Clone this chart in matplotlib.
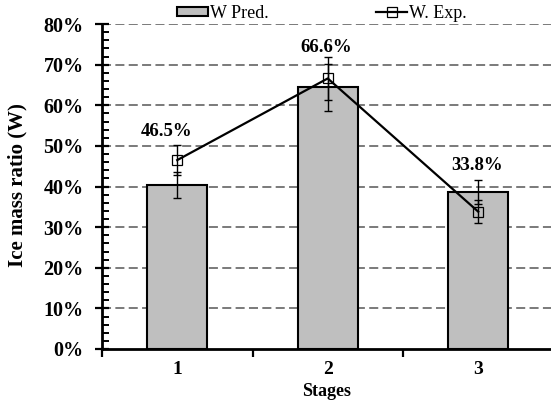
import matplotlib
matplotlib.use("Agg")
import matplotlib.pyplot as plt
from matplotlib.ticker import FixedLocator, FuncFormatter
import numpy as np

stages = ["1", "2", "3"]
pred_values = [40.4, 64.4, 38.6]
pred_errors = [3.2, 5.8, 2.95]
exp_values = [46.5, 66.6, 33.8]
exp_errors = [3.6, 5.2, 2.8]
exp_labels = ["46.5%", "66.6%", "33.8%"]
y_ticks = [0, 10, 20, 30, 40, 50, 60, 70, 80]

plt.rcParams['font.family'] = ['Liberation Serif', 'DejaVu Serif']

fig = plt.figure(figsize=(5.51, 4.01), dpi=100)
W, H = 551, 401
left_px, right_px = 102, 553.5
bottom_px, top_px = 349, 24
ax = fig.add_axes([left_px / W, (H - bottom_px) / H,
                   (right_px - left_px) / W, (bottom_px - top_px) / H])

x = np.arange(1, len(stages) + 1)

# gridlines
for yv in y_ticks[1:]:
    ax.axhline(yv, color='#6f6f6f', lw=1.3, ls=(0, (5, 2.4)), zorder=0)

bars = ax.bar(x, pred_values, width=0.4, color='#bfbfbf', edgecolor='black',
              linewidth=1.5, zorder=2, label='W Pred.')
ax.errorbar(x, pred_values, yerr=pred_errors, fmt='none', ecolor='black',
            elinewidth=1.0, capsize=2.8, capthick=1.0, zorder=3)

line, = ax.plot(x, exp_values, color='black', lw=1.6, marker='s', ms=6.5,
                mfc='none', mec='black', mew=0.9, zorder=4, label='W. Exp.')
ax.errorbar(x, exp_values, yerr=exp_errors, fmt='none', ecolor='black',
            elinewidth=1.0, capsize=2.8, capthick=1.0, zorder=4)

label_dx = [-0.07, -0.01, -0.01]
label_dy = [7.0, 7.6, 11.3]
for xi, v, lab, dx, dy in zip(x, exp_values, exp_labels, label_dx, label_dy):
    ax.text(xi + dx, v + dy, lab, ha='center', va='center',
            fontsize=13.5, fontweight='bold')

ax.set_xlim(0.5, 3.5)
ax.set_ylim(0, 80)
ax.yaxis.set_major_locator(FixedLocator(y_ticks))
ax.yaxis.set_minor_locator(FixedLocator(np.arange(0, 80.1, 2)))
ax.yaxis.set_major_formatter(FuncFormatter(lambda v, p: f"{int(round(v))}%"))
ax.set_xticks(x)
ax.set_xticklabels(stages)
ax.xaxis.set_minor_locator(FixedLocator([0.5, 1.5, 2.5, 3.5]))

ax.tick_params(axis='y', which='major', direction='inout', length=10.5,
               width=1.6, labelsize=14.5, pad=8)
ax.tick_params(axis='y', which='minor', direction='in', length=5, width=1.4)
ax.tick_params(axis='x', which='major', direction='in', length=3,
               width=1.6, labelsize=14, pad=9)
ax.tick_params(axis='x', which='minor', direction='out', length=6, width=1.6)
for lab in ax.get_xticklabels() + ax.get_yticklabels():
    lab.set_fontweight('bold')

for s in ['top', 'right']:
    ax.spines[s].set_visible(False)
for s in ['left', 'bottom']:
    ax.spines[s].set_linewidth(2)
    ax.spines[s].set_zorder(5)

fig.text(327 / W, 1 - 391 / H, 'Stages', ha='center', va='center',
         fontsize=13, fontweight='bold')
fig.text(17 / W, 1 - 185 / H, 'Ice mass ratio (W)', ha='center',
         va='center', rotation=90, fontsize=15, fontweight='bold')

leg = fig.legend(handles=[bars, line], labels=['W Pred.', 'W. Exp.'],
                 loc='center left', bbox_to_anchor=(177 / W, 1 - 13.5 / H),
                 ncol=2, frameon=False, fontsize=13, handlelength=1.7,
                 handleheight=0.45, handletextpad=0.1, columnspacing=6.0,
                 borderaxespad=0, borderpad=0)

fig.savefig('out.png', dpi=100)
